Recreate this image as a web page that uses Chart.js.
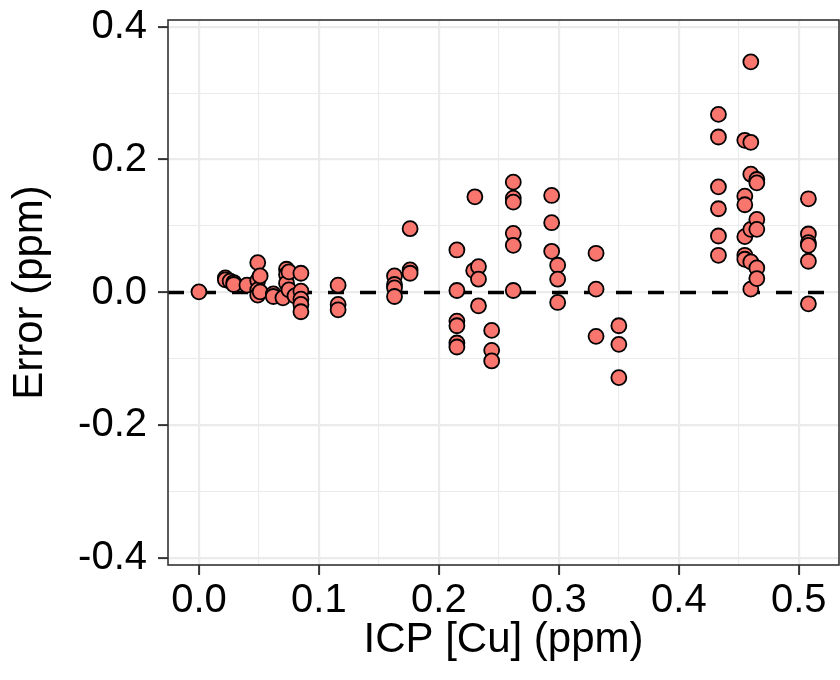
<!DOCTYPE html>
<html>
<head>
<meta charset="utf-8">
<title>ICP error</title>
<script src="https://cdn.jsdelivr.net/npm/chart.js@4.4.1/dist/chart.umd.min.js"></script>
<style>
  html, body { margin: 0; padding: 0; background: #fff; }
  #wrap { width: 840px; height: 680px; }
</style>
</head>
<body>
<div id="wrap"><canvas id="errChart" width="840" height="680"></canvas></div>
<script>
// ICP copper reading (ppm) for each sample
const icpValues = [
  0,
  0.022, 0.022, 0.026, 0.029, 0.029, 0.040,
  0.049, 0.049, 0.049, 0.049, 0.051, 0.051,
  0.062, 0.062, 0.070, 0.073, 0.073, 0.073, 0.075, 0.075, 0.080,
  0.085, 0.085, 0.085, 0.085, 0.085,
  0.116, 0.116, 0.116,
  0.163, 0.163, 0.163, 0.163, 0.176, 0.176, 0.176,
  0.215, 0.215, 0.215, 0.215, 0.215, 0.215,
  0.229, 0.230, 0.233, 0.233, 0.233, 0.244, 0.244, 0.244,
  0.262, 0.262, 0.262, 0.262, 0.262, 0.262,
  0.294, 0.294, 0.294, 0.299, 0.299, 0.299,
  0.331, 0.331, 0.331, 0.350, 0.350, 0.350,
  0.433, 0.433, 0.433, 0.433, 0.433, 0.433,
  0.455, 0.455, 0.455, 0.455, 0.455, 0.455,
  0.460, 0.460, 0.460, 0.460, 0.460, 0.460,
  0.465, 0.465, 0.465, 0.465, 0.465, 0.465,
  0.508, 0.508, 0.508, 0.508, 0.508, 0.508
];

// error of the sensor against ICP (ppm), same order as icpValues
const errorValues = [
  0.001,
  0.022, 0.019, 0.017, 0.015, 0.012, 0.011,
  0.045, 0.018, 0.004, -0.004, 0.025, 0.001,
  -0.002, -0.006, -0.008, 0.035, 0.027, 0.014, 0.031, 0.004, -0.005,
  0.029, 0.002, -0.010, -0.018, -0.029,
  0.011, -0.018, -0.026,
  0.025, 0.012, 0.007, -0.006, 0.096, 0.034, 0.029,
  0.064, 0.003, -0.043, -0.050, -0.076, -0.082,
  0.033, 0.144, 0.039, 0.020, -0.020, -0.057, -0.087, -0.103,
  0.166, 0.142, 0.136, 0.089, 0.071, 0.003,
  0.146, 0.105, 0.062, 0.041, 0.020, -0.015,
  0.059, 0.005, -0.066, -0.050, -0.078, -0.128,
  0.268, 0.234, 0.159, 0.126, 0.085, 0.056,
  0.229, 0.145, 0.132, 0.084, 0.056, 0.050,
  0.347, 0.226, 0.178, 0.095, 0.046, 0.005,
  0.170, 0.165, 0.110, 0.095, 0.037, 0.021,
  0.141, 0.088, 0.075, 0.071, 0.047, -0.017
];

const xMajorTicks = [0, 0.1, 0.2, 0.3, 0.4, 0.5];
const xMinorTicks = [0.05, 0.15, 0.25, 0.35, 0.45];
const yMajorTicks = [-0.4, -0.2, 0, 0.2, 0.4];
const yMinorTicks = [-0.3, -0.1, 0.1, 0.3];

const X_MIN = -0.0258, X_MAX = 0.5335;
const Y_MIN = -0.41, Y_MAX = 0.41;

const fontFamily = "'Liberation Sans', Arial, Helvetica, sans-serif";

function isMajor(v, list) {
  return list.some((m) => Math.abs(m - v) < 1e-9);
}

function setTicks(majors, minors) {
  return (axis) => {
    axis.ticks = majors.concat(minors)
      .sort((a, b) => a - b)
      .map((v) => ({ value: v }));
  };
}

// outline round the panel, like panel.border in theme_bw
const panelFrame = {
  id: "panelFrame",
  afterDatasetsDraw(chart) {
    const { ctx, chartArea: a } = chart;
    ctx.save();
    ctx.strokeStyle = "#333333";
    ctx.lineWidth = 1.6;
    ctx.strokeRect(a.left, a.top, a.right - a.left, a.bottom - a.top);
    ctx.restore();
  },
};

const points = icpValues.map((x, i) => ({ x: x, y: errorValues[i] }));

const ctx = document.getElementById("errChart").getContext("2d");

new Chart(ctx, {
  type: "scatter",
  data: {
    datasets: [
      {
        label: "Error",
        data: points,
        order: 1,
        pointRadius: 7.5,
        pointHoverRadius: 7.5,
        pointBackgroundColor: "#F8766D",
        pointBorderColor: "#000000",
        pointBorderWidth: 1.8,
      },
      {
        type: "line",
        label: "zero",
        data: [{ x: X_MIN, y: 0 }, { x: X_MAX, y: 0 }],
        order: 2,
        borderColor: "#000000",
        borderWidth: 3.5,
        borderDash: [16, 16],
        pointRadius: 0,
        fill: false,
      },
    ],
  },
  options: {
    responsive: false,
    animation: false,
    layout: {
      autoPadding: false,
      padding: { top: 20, right: 1, bottom: 0, left: 0 },
    },
    plugins: {
      legend: { display: false },
      tooltip: { enabled: false },
    },
    scales: {
      x: {
        type: "linear",
        min: X_MIN,
        max: X_MAX,
        afterBuildTicks: setTicks(xMajorTicks, xMinorTicks),
        afterFit: (scale) => {
          scale.height = 115;
          scale.paddingLeft = 0;
          scale.paddingRight = 0;
        },
        border: { display: false },
        grid: {
          color: "#EBEBEB",
          lineWidth: (c) => (c.tick && isMajor(c.tick.value, xMajorTicks) ? 2.2 : 1.1),
          tickColor: (c) => (c.tick && isMajor(c.tick.value, xMajorTicks) ? "#333333" : "rgba(0,0,0,0)"),
          tickLength: 10,
          tickWidth: 2,
        },
        ticks: {
          autoSkip: false,
          maxRotation: 0,
          padding: 6,
          color: "#000000",
          font: { family: fontFamily, size: 40, lineHeight: 1 },
          callback: (v) => (isMajor(v, xMajorTicks) ? Number(v).toFixed(1) : ""),
        },
        title: {
          display: true,
          text: "ICP [Cu] (ppm)",
          color: "#000000",
          font: { family: fontFamily, size: 42 },
          padding: { top: 0, bottom: 14 },
        },
      },
      y: {
        type: "linear",
        min: Y_MIN,
        max: Y_MAX,
        afterBuildTicks: setTicks(yMajorTicks, yMinorTicks),
        afterFit: (scale) => {
          scale.width = 168;
          scale.paddingTop = 0;
          scale.paddingBottom = 0;
        },
        border: { display: false },
        grid: {
          color: "#EBEBEB",
          lineWidth: (c) => (c.tick && isMajor(c.tick.value, yMajorTicks) ? 2.2 : 1.1),
          tickColor: (c) => (c.tick && isMajor(c.tick.value, yMajorTicks) ? "#333333" : "rgba(0,0,0,0)"),
          tickLength: 10,
          tickWidth: 2,
        },
        ticks: {
          autoSkip: false,
          padding: 11,
          color: "#000000",
          font: { family: fontFamily, size: 40, lineHeight: 1 },
          callback: (v) => (isMajor(v, yMajorTicks) ? Number(v).toFixed(1) : ""),
        },
        title: {
          display: true,
          text: "Error (ppm)",
          color: "#000000",
          font: { family: fontFamily, size: 42 },
          padding: { top: 5, bottom: 0 },
        },
      },
    },
  },
  plugins: [panelFrame],
});
</script>
</body>
</html>
